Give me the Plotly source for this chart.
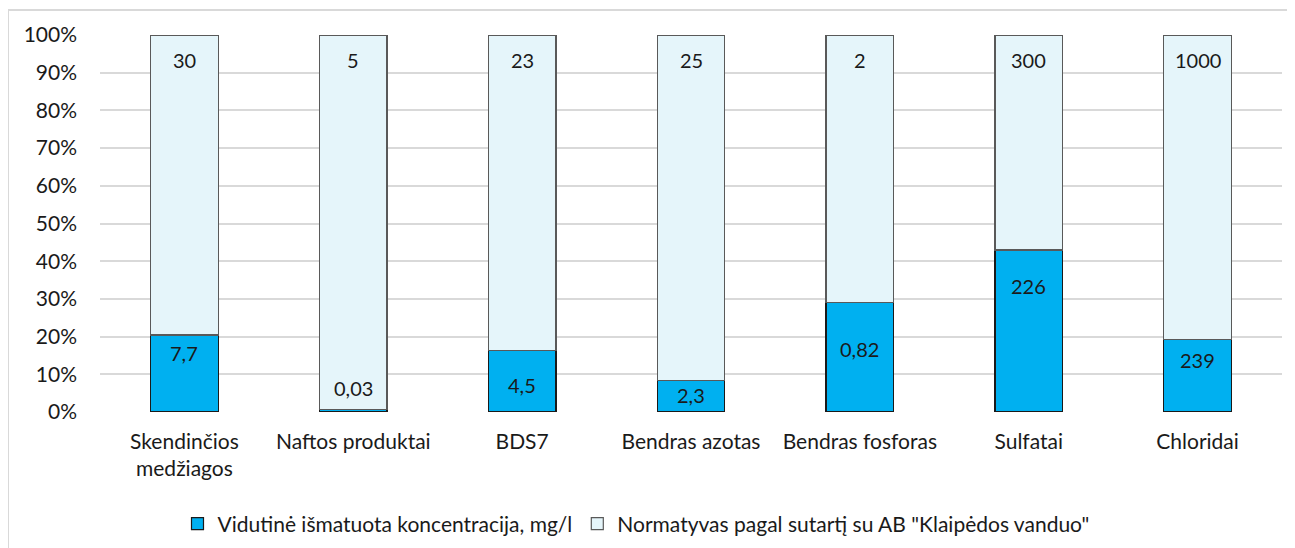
import plotly.graph_objects as go

categories = ["Skendinčios<br>medžiagos", "Naftos produktai", "BDS7", "Bendras azotas",
              "Bendras fosforas", "Sulfatai", "Chloridai"]
measured = [7.7, 0.03, 4.5, 2.3, 0.82, 226, 239]
norm = [30, 5, 23, 25, 2, 300, 1000]
measured_labels = ["7,7", "0,03", "4,5", "2,3", "0,82", "226", "239"]
norm_labels = ["30", "5", "23", "25", "2", "300", "1000"]
# pixel offsets of measured labels from top of the measured segment (negative = below)
measured_label_shift = [-18, 22, -35, -15, -47, -36, -21]

FONT = "Lato"
TXT = "#1a1a1a"

fig = go.Figure()
fig.add_trace(go.Bar(x=categories, y=measured, name="Vidutinė išmatuota koncentracija, mg/l",
                     marker=dict(color="#00B0F0", line=dict(color="#1a1a1a", width=1.2))))
fig.add_trace(go.Bar(x=categories, y=norm, name='Normatyvas pagal sutartį su AB "Klaipėdos vanduo"',
                     marker=dict(color="#E5F5FA", line=dict(color="#595959", width=1.2))))

annotations = []
for c, m, n, ml, nl, sh in zip(categories, measured, norm, measured_labels, norm_labels, measured_label_shift):
    pct = m / (m + n) * 100
    annotations.append(dict(x=c, y=pct, text=ml, showarrow=False, yanchor="middle", yshift=sh,
                            font=dict(size=20, color=TXT, family=FONT)))
    annotations.append(dict(x=c, y=100, text=nl, showarrow=False, yanchor="middle", yshift=-25,
                            font=dict(size=20, color=TXT, family=FONT)))

L, T, PW, PH = 92, 27, 1182, 377
fig.update_layout(
    barmode="stack", barnorm="percent", bargap=0.6,
    width=1295, height=548,
    margin=dict(l=L, r=1295 - L - PW, t=T, b=548 - T - PH),
    paper_bgcolor="white", plot_bgcolor="white",
    font=dict(family=FONT, size=21, color=TXT),
    showlegend=True,
    legend=dict(orientation="h", x=(628 - L) / PW, xanchor="center",
                y=(T + PH - 516) / PH, yanchor="middle",
                font=dict(size=21, color=TXT, family=FONT), traceorder="normal",
                itemwidth=30),
    annotations=annotations,
    yaxis=dict(range=[0, 100], dtick=10, ticksuffix="%", showgrid=True, gridcolor="#d9d9d9",
               gridwidth=1.5, zeroline=False, showline=False, ticks="", ticklen=0,
               automargin=False, ticklabelstandoff=22,
               tickfont=dict(size=21, color=TXT, family=FONT)),
    xaxis=dict(showline=False, ticks="", automargin=False, ticklabelstandoff=15,
               tickfont=dict(size=21, color=TXT, family=FONT)),
    shapes=[dict(type="rect", xref="paper", yref="paper",
                 x0=(0 - L) / PW, x1=(1300 - L) / PW,
                 y0=(T + PH - 560) / PH, y1=(T + PH - 2) / PH,
                 line=dict(color="#d9d9d9", width=2), fillcolor="rgba(0,0,0,0)", layer="below")],
)

fig.write_html("out.html")
